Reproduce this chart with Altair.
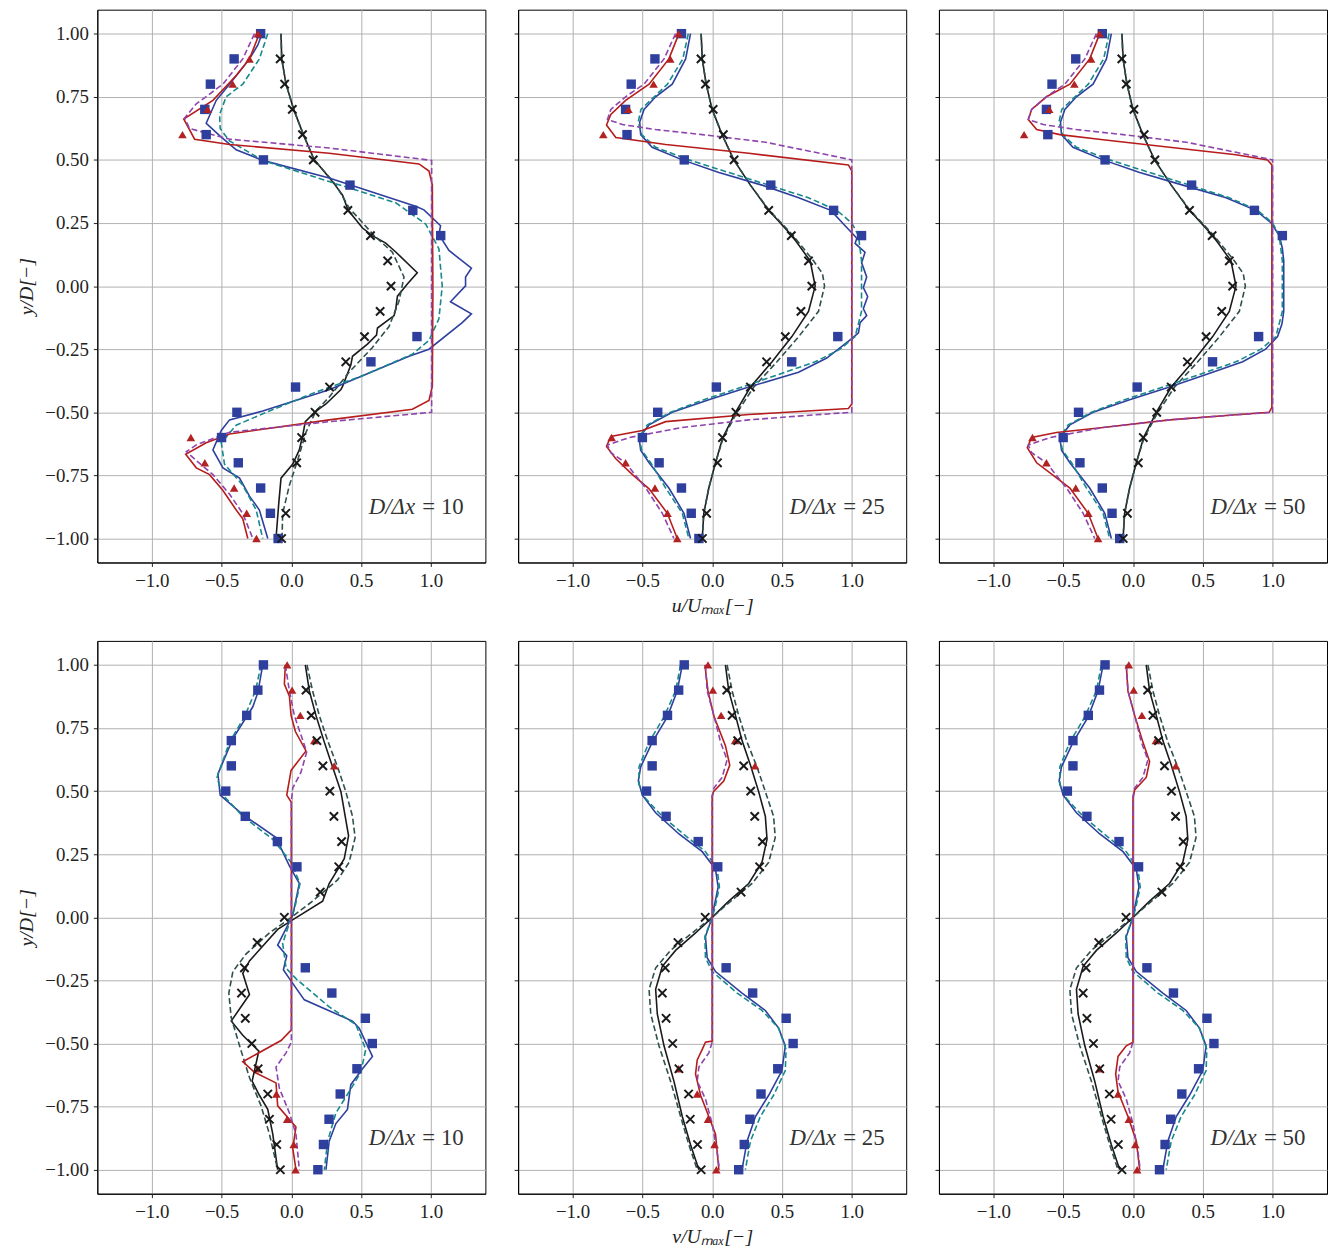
import altair as alt
import pandas as pd

# ---------------- axes ----------------
X_DOMAIN = [-1.39, 1.39]
Y_DOMAIN = [-1.095, 1.095]
X_TICKS = [-1.0, -0.5, 0.0, 0.5, 1.0]
Y_TICKS = [-1.0, -0.75, -0.5, -0.25, 0.0, 0.25, 0.5, 0.75, 1.0]
RESOLUTIONS = ["10", "25", "50"]

# ---------------- reference points (y, x) ----------------
U_REF_CROSS = [(0.9, -0.08), (0.8, -0.048), (0.7, 0.007), (0.6, 0.08), (0.5, 0.157),
               (0.3, 0.405), (0.2, 0.567), (0.1, 0.69), (0.0, 0.714), (-0.1, 0.636),
               (-0.2, 0.524), (-0.3, 0.39), (-0.4, 0.274), (-0.5, 0.17), (-0.6, 0.074),
               (-0.7, 0.038), (-0.9, -0.04), (-1.0, -0.07)]
U_REF_SQUARE = [(1.0, -0.22), (0.9, -0.41), (0.8, -0.58), (0.7, -0.62), (0.6, -0.61),
                (0.5, -0.2), (0.4, 0.42), (0.3, 0.87), (0.2, 1.07), (-0.2, 0.9),
                (-0.3, 0.57), (-0.4, 0.03), (-0.5, -0.39), (-0.6, -0.5), (-0.7, -0.38),
                (-0.8, -0.22), (-0.9, -0.15), (-1.0, -0.095)]
U_REF_TRIANGLE = [(1.0, -0.24), (0.9, -0.3), (0.8, -0.42), (0.7, -0.6), (0.6, -0.78),
                  (-0.6, -0.72), (-0.7, -0.62), (-0.8, -0.41), (-0.9, -0.32), (-1.0, -0.25)]

V_REF_CROSS = [(0.9, 0.105), (0.8, 0.143), (0.7, 0.183), (0.6, 0.226), (0.5, 0.276),
               (0.4, 0.305), (0.3, 0.36), (0.2, 0.34), (0.1, 0.207), (0.0, -0.05),
               (-0.1, -0.245), (-0.2, -0.336), (-0.3, -0.357), (-0.4, -0.33), (-0.5, -0.283),
               (-0.6, -0.238), (-0.7, -0.169), (-0.8, -0.157), (-0.9, -0.105), (-1.0, -0.079)]
V_REF_SQUARE = [(1.0, -0.2), (0.9, -0.24), (0.8, -0.32), (0.7, -0.43), (0.6, -0.43),
                (0.5, -0.47), (0.4, -0.33), (0.3, -0.1), (0.2, 0.04), (-0.2, 0.1),
                (-0.3, 0.29), (-0.4, 0.53), (-0.5, 0.58), (-0.6, 0.47), (-0.7, 0.35),
                (-0.8, 0.27), (-0.9, 0.23), (-1.0, 0.19)]
V_REF_TRIANGLE = [(1.0, -0.03), (0.9, 0.005), (0.8, 0.064), (0.7, 0.164), (0.6, 0.307),
                  (-0.6, -0.24), (-0.7, -0.107), (-0.8, -0.03), (-0.9, 0.017), (-1.0, 0.03)]

# ---------------- u profiles, D/dx = 10 ----------------
U10_BLACK = [(1.0, -0.074), (0.9, -0.069), (0.8, -0.038), (0.7, 0.017), (0.6, 0.086), (0.5, 0.164),
             (0.43, 0.271), (0.4, 0.314), (0.36, 0.367), (0.3, 0.407), (0.23, 0.51), (0.2, 0.58),
             (0.17, 0.676), (0.135, 0.748), (0.053, 0.902), (0.008, 0.831), (-0.04, 0.76),
             (-0.09, 0.748), (-0.117, 0.736), (-0.166, 0.617), (-0.194, 0.61), (-0.23, 0.545),
             (-0.278, 0.438), (-0.313, 0.426), (-0.397, 0.367), (-0.41, 0.355), (-0.467, 0.248),
             (-0.495, 0.176), (-0.537, 0.1), (-0.593, 0.081), (-0.649, 0.057), (-0.705, 0.01),
             (-0.761, -0.074), (-0.859, -0.09), (-1.0, -0.11)]
U10_SLATE = [(1.0, -0.074), (0.9, -0.069), (0.8, -0.038), (0.7, 0.017), (0.6, 0.086), (0.5, 0.164),
             (0.4, 0.32), (0.31, 0.414), (0.2, 0.593), (0.134, 0.724), (0.036, 0.807), (-0.06, 0.771),
             (-0.16, 0.7), (-0.243, 0.581), (-0.341, 0.414), (-0.44, 0.271), (-0.495, 0.176),
             (-0.579, 0.105), (-0.69, 0.045), (-0.789, -0.014), (-0.9, -0.062), (-1.0, -0.067)]
U10_BLUE = [(1.0, -0.21), (0.955, -0.24), (0.9, -0.3), (0.8, -0.443), (0.736, -0.538), (0.645, -0.61),
            (0.596, -0.514), (0.54, -0.395), (0.498, -0.205), (0.428, 0.271), (0.316, 0.89),
            (0.302, 0.95), (0.239, 1.069), (0.204, 1.057), (0.141, 1.129), (0.071, 1.29),
            (0.036, 1.248), (0.001, 1.248), (-0.062, 1.14), (-0.11, 1.29), (-0.145, 1.224),
            (-0.25, 0.986), (-0.278, 0.843), (-0.411, 0.271), (-0.495, -0.205), (-0.53, -0.443),
            (-0.572, -0.502), (-0.649, -0.562), (-0.72, -0.49), (-0.761, -0.371), (-0.832, -0.3),
            (-0.887, -0.229), (-1.0, -0.169)]
U10_TEAL = [(1.0, -0.169), (0.9, -0.229), (0.8, -0.348), (0.75, -0.467), (0.68, -0.514),
            (0.624, -0.51), (0.575, -0.443), (0.498, -0.205), (0.414, 0.271), (0.33, 0.748),
            (0.246, 0.962), (0.148, 1.057), (0.0, 1.081), (-0.13, 1.057), (-0.215, 0.986),
            (-0.27, 0.867), (-0.355, 0.51), (-0.425, 0.152), (-0.495, -0.157), (-0.551, -0.395),
            (-0.621, -0.502), (-0.705, -0.479), (-0.789, -0.348), (-0.887, -0.252), (-1.0, -0.205)]
U10_RED = [(1.0, -0.229), (0.9, -0.3), (0.834, -0.395), (0.736, -0.562), (0.662, -0.771),
           (0.582, -0.693), (0.561, -0.443), (0.526, 0.271), (0.484, 0.914), (0.456, 0.986),
           (0.4, 1.01), (-0.02, 1.014), (-0.397, 1.01), (-0.453, 0.986), (-0.488, 0.867),
           (-0.53, 0.271), (-0.586, -0.443), (-0.621, -0.61), (-0.666, -0.757), (-0.72, -0.681),
           (-0.747, -0.586), (-0.81, -0.49), (-0.887, -0.395), (-0.922, -0.348), (-1.0, -0.312)]
U10_PURPLE = [(1.0, -0.264), (0.9, -0.348), (0.8, -0.49), (0.722, -0.681), (0.666, -0.764),
              (0.624, -0.729), (0.582, -0.443), (0.547, 0.271), (0.498, 1.005), (-0.5, 1.005),
              (-0.537, 0.271), (-0.579, -0.443), (-0.629, -0.681), (-0.656, -0.752),
              (-0.691, -0.681), (-0.747, -0.562), (-0.824, -0.443), (-0.901, -0.348), (-1.0, -0.276)]

# ---------------- u profiles, D/dx = 25 ----------------
U25_BLACK = [(1.0, -0.079), (0.9, -0.071), (0.8, -0.043), (0.7, 0.0), (0.6, 0.071), (0.5, 0.155),
             (0.4, 0.274), (0.3, 0.405), (0.2, 0.571), (0.1, 0.702), (0.0, 0.738), (-0.1, 0.69),
             (-0.2, 0.571), (-0.3, 0.429), (-0.4, 0.274), (-0.5, 0.167), (-0.6, 0.076),
             (-0.7, 0.024), (-0.8, -0.024), (-0.9, -0.06), (-1.0, -0.071)]
U25_SLATE = [(1.0, -0.079), (0.9, -0.071), (0.8, -0.043), (0.7, 0.0), (0.6, 0.071), (0.5, 0.155),
             (0.4, 0.274), (0.3, 0.41), (0.2, 0.58), (0.1, 0.726), (0.05, 0.79), (0.0, 0.805),
             (-0.1, 0.762), (-0.2, 0.62), (-0.3, 0.464), (-0.4, 0.298), (-0.5, 0.179),
             (-0.6, 0.08), (-0.7, 0.024), (-0.8, -0.024), (-0.9, -0.06), (-1.0, -0.071)]
U25_BLUE = [(1.0, -0.155), (0.9, -0.19), (0.8, -0.286), (0.75, -0.405), (0.7, -0.488),
            (0.65, -0.519), (0.6, -0.512), (0.55, -0.43), (0.5, -0.214), (0.45, 0.048),
            (0.4, 0.357), (0.35, 0.62), (0.3, 0.85), (0.225, 0.976), (0.19, 1.036), (0.169, 1.024),
            (0.134, 1.095), (0.092, 1.071), (0.036, 1.107), (-0.006, 1.083), (-0.041, 1.114),
            (-0.09, 1.083), (-0.117, 1.107), (-0.145, 1.06), (-0.185, 1.048), (-0.208, 1.0),
            (-0.285, 0.821), (-0.341, 0.619), (-0.4, 0.262), (-0.45, -0.024), (-0.5, -0.286),
            (-0.55, -0.452), (-0.6, -0.524), (-0.65, -0.512), (-0.7, -0.452), (-0.8, -0.31),
            (-0.9, -0.202), (-1.0, -0.155)]
U25_TEAL = [(1.0, -0.171), (0.9, -0.21), (0.8, -0.32), (0.7, -0.51), (0.65, -0.53), (0.6, -0.505),
            (0.55, -0.405), (0.5, -0.167), (0.45, 0.119), (0.4, 0.405), (0.35, 0.69), (0.3, 0.893),
            (0.25, 1.0), (0.2, 1.048), (0.1, 1.07), (-0.1, 1.07), (-0.2, 1.024), (-0.25, 0.917),
            (-0.3, 0.738), (-0.35, 0.476), (-0.4, 0.214), (-0.45, -0.06), (-0.5, -0.298),
            (-0.55, -0.464), (-0.6, -0.524), (-0.65, -0.505), (-0.7, -0.44), (-0.8, -0.333),
            (-0.9, -0.214), (-1.0, -0.167)]
U25_RED = [(1.0, -0.238), (0.9, -0.31), (0.8, -0.452), (0.736, -0.62), (0.68, -0.726),
           (0.638, -0.757), (0.589, -0.69), (0.561, -0.333), (0.526, 0.262), (0.48, 0.976),
           (0.456, 1.0), (-0.467, 1.0), (-0.485, 0.976), (-0.509, 0.262), (-0.537, -0.333),
           (-0.572, -0.5), (-0.596, -0.726), (-0.635, -0.757), (-0.684, -0.69), (-0.747, -0.571),
           (-0.803, -0.452), (-0.9, -0.321), (-1.0, -0.25)]
U25_PURPLE = [(1.0, -0.262), (0.9, -0.345), (0.8, -0.488), (0.75, -0.62), (0.7, -0.726),
              (0.66, -0.75), (0.64, -0.643), (0.62, -0.405), (0.6, -0.071), (0.57, 0.381),
              (0.53, 0.738), (0.5, 1.0), (-0.5, 1.0), (-0.51, 0.738), (-0.53, 0.262),
              (-0.56, -0.214), (-0.6, -0.595), (-0.63, -0.75), (-0.66, -0.726), (-0.7, -0.62),
              (-0.8, -0.476), (-0.9, -0.357), (-1.0, -0.274)]

# ---------------- u profiles, D/dx = 50 ----------------
U50_BLACK = U25_BLACK
U50_SLATE = U25_SLATE
U50_BLUE = [(1.0, -0.155), (0.9, -0.19), (0.8, -0.286), (0.75, -0.405), (0.7, -0.488),
            (0.65, -0.519), (0.6, -0.512), (0.55, -0.43), (0.5, -0.214), (0.45, 0.048),
            (0.4, 0.357), (0.35, 0.667), (0.3, 0.88), (0.25, 0.99), (0.2, 1.048), (0.15, 1.07),
            (0.1, 1.08), (-0.1, 1.08), (-0.15, 1.067), (-0.2, 1.036), (-0.25, 0.95),
            (-0.3, 0.786), (-0.35, 0.524), (-0.4, 0.262), (-0.45, -0.024), (-0.5, -0.286),
            (-0.55, -0.452), (-0.6, -0.524), (-0.65, -0.512), (-0.7, -0.452), (-0.8, -0.31),
            (-0.9, -0.202), (-1.0, -0.155)]
U50_TEAL = U25_TEAL
U50_RED = [(1.0, -0.238), (0.9, -0.31), (0.8, -0.452), (0.75, -0.62), (0.7, -0.726),
           (0.66, -0.75), (0.62, -0.69), (0.6, -0.524), (0.58, -0.214), (0.55, 0.262),
           (0.52, 0.738), (0.5, 0.964), (0.48, 0.995), (-0.48, 0.995), (-0.5, 0.976),
           (-0.51, 0.738), (-0.53, 0.262), (-0.56, -0.214), (-0.58, -0.548), (-0.6, -0.726),
           (-0.64, -0.757), (-0.7, -0.69), (-0.75, -0.571), (-0.8, -0.452), (-0.9, -0.321),
           (-1.0, -0.25)]
U50_PURPLE = U25_PURPLE

# ---------------- v profiles, D/dx = 10 ----------------
V10_BLACK = [(1.0, 0.1), (0.897, 0.129), (0.8, 0.176), (0.694, 0.236), (0.596, 0.295), (0.498, 0.355),
             (0.323, 0.41), (0.232, 0.379), (0.134, 0.271), (0.064, 0.224), (-0.013, 0.0),
             (-0.048, -0.098), (-0.173, -0.3), (-0.222, -0.348), (-0.306, -0.3), (-0.411, -0.431),
             (-0.467, -0.348), (-0.53, -0.233), (-0.649, -0.281), (-0.705, -0.229), (-0.761, -0.169),
             (-0.859, -0.133), (-1.0, -0.098)]
V10_SLATE = [(1.0, 0.112), (0.897, 0.152), (0.8, 0.2), (0.7, 0.26), (0.596, 0.331), (0.498, 0.39),
             (0.4, 0.438), (0.316, 0.457), (0.218, 0.414), (0.148, 0.331), (0.064, 0.152), (0.0, 0.0),
             (-0.062, -0.157), (-0.145, -0.324), (-0.215, -0.419), (-0.3, -0.448), (-0.397, -0.431),
             (-0.509, -0.371), (-0.635, -0.3), (-0.747, -0.217), (-0.859, -0.157), (-1.0, -0.098)]
V10_BLUE = [(1.0, -0.205), (0.89, -0.24), (0.834, -0.276), (0.708, -0.419), (0.568, -0.526),
            (0.484, -0.51), (0.407, -0.348), (0.316, -0.11), (0.204, -0.014), (0.134, 0.057),
            (0.008, 0.01), (-0.11, -0.098), (-0.152, -0.033), (-0.208, -0.057), (-0.243, -0.014),
            (-0.327, 0.093), (-0.411, 0.438), (-0.439, 0.486), (-0.551, 0.581), (-0.6, 0.51),
            (-0.663, 0.426), (-0.761, 0.402), (-0.817, 0.319), (-0.887, 0.271), (-1.0, 0.248)]
V10_TEAL = [(1.0, -0.217), (0.897, -0.257), (0.794, -0.336), (0.694, -0.443), (0.554, -0.533),
            (0.484, -0.49), (0.4, -0.348), (0.309, -0.133), (0.218, -0.002), (0.134, 0.062),
            (0.036, 0.024), (0.0, 0.0), (-0.103, -0.062), (-0.201, -0.038), (-0.243, 0.033),
            (-0.355, 0.271), (-0.425, 0.462), (-0.523, 0.533), (-0.614, 0.498), (-0.691, 0.414),
            (-0.775, 0.319), (-0.887, 0.26), (-1.0, 0.236)]
V10_RED = [(1.0, -0.043), (0.924, -0.05), (0.876, -0.014), (0.8, -0.002), (0.736, 0.029),
           (0.659, 0.105), (0.582, -0.002), (0.484, -0.033), (0.456, 0.0), (-0.446, 0.0),
           (-0.488, -0.074), (-0.572, -0.348), (-0.614, -0.264), (-0.656, -0.11), (-0.747, -0.098),
           (-0.831, 0.033), (-0.915, 0.01), (-1.0, 0.033)]
V10_PURPLE = [(1.0, -0.043), (0.897, -0.014), (0.8, 0.021), (0.722, 0.069), (0.655, 0.11),
              (0.575, 0.069), (0.512, 0.01), (0.46, 0.0), (-0.495, 0.0), (-0.537, -0.038),
              (-0.593, -0.11), (-0.677, -0.086), (-0.775, -0.014), (-0.859, 0.033), (-1.0, 0.057)]

# ---------------- v profiles, D/dx = 25 and 50 ----------------
V50_BLACK = [(1.0, 0.095), (0.897, 0.119), (0.8, 0.167), (0.7, 0.214), (0.603, 0.274), (0.498, 0.333),
             (0.4, 0.381), (0.309, 0.393), (0.218, 0.357), (0.134, 0.262), (0.064, 0.119), (0.0, 0.0),
             (-0.062, -0.119), (-0.131, -0.262), (-0.194, -0.357), (-0.285, -0.405),
             (-0.383, -0.393), (-0.509, -0.345), (-0.649, -0.274), (-0.789, -0.214),
             (-0.901, -0.155), (-1.0, -0.095)]
V50_SLATE = [(1.0, 0.107), (0.897, 0.143), (0.8, 0.19), (0.694, 0.25), (0.596, 0.321), (0.498, 0.381),
             (0.4, 0.44), (0.316, 0.452), (0.218, 0.405), (0.134, 0.286), (0.057, 0.119), (0.0, 0.0),
             (-0.062, -0.143), (-0.131, -0.298), (-0.201, -0.405), (-0.285, -0.452),
             (-0.383, -0.44), (-0.509, -0.381), (-0.649, -0.298), (-0.789, -0.226),
             (-0.901, -0.167), (-1.0, -0.107)]
V50_BLUE = [(1.0, -0.214), (0.897, -0.25), (0.794, -0.321), (0.694, -0.429), (0.596, -0.512),
            (0.54, -0.529), (0.484, -0.5), (0.414, -0.405), (0.33, -0.238), (0.26, -0.071),
            (0.19, 0.024), (0.12, 0.043), (0.036, 0.012), (0.0, 0.0), (-0.076, -0.048),
            (-0.16, -0.036), (-0.215, 0.024), (-0.3, 0.214), (-0.369, 0.381), (-0.439, 0.476),
            (-0.509, 0.524), (-0.607, 0.5), (-0.705, 0.405), (-0.789, 0.31), (-0.887, 0.25),
            (-1.0, 0.214)]
V50_TEAL = [(1.0, -0.226), (0.897, -0.262), (0.794, -0.345), (0.694, -0.452), (0.596, -0.524),
            (0.526, -0.524), (0.47, -0.476), (0.4, -0.357), (0.323, -0.19), (0.26, -0.048),
            (0.19, 0.036), (0.12, 0.052), (0.036, 0.019), (0.0, 0.0), (-0.076, -0.052),
            (-0.16, -0.048), (-0.215, 0.0), (-0.3, 0.179), (-0.369, 0.357), (-0.439, 0.476),
            (-0.523, 0.529), (-0.607, 0.524), (-0.705, 0.44), (-0.789, 0.345), (-0.887, 0.274),
            (-1.0, 0.238)]
V50_RED = [(1.0, -0.048), (0.897, -0.036), (0.8, 0.012), (0.694, 0.071), (0.617, 0.119),
           (0.554, 0.095), (0.505, 0.012), (0.47, 0.0), (-0.495, 0.0), (-0.509, -0.048),
           (-0.551, -0.107), (-0.621, -0.124), (-0.691, -0.107), (-0.789, -0.036),
           (-0.887, 0.024), (-1.0, 0.048)]
V50_PURPLE = [(1.0, -0.048), (0.897, -0.036), (0.8, 0.012), (0.694, 0.06), (0.624, 0.107),
              (0.554, 0.071), (0.512, 0.012), (0.48, 0.0), (-0.495, 0.0), (-0.537, -0.024),
              (-0.593, -0.095), (-0.649, -0.107), (-0.72, -0.048), (-0.818, 0.0),
              (-0.93, 0.036), (-1.0, 0.052)]
V25_BLACK = V50_BLACK
V25_SLATE = V50_SLATE
V25_BLUE = V50_BLUE
V25_TEAL = V50_TEAL
V25_RED = [(1.0, -0.052), (0.897, -0.03), (0.794, 0.014), (0.68, 0.095), (0.603, 0.126),
           (0.54, 0.083), (0.5, 0.012), (0.48, 0.0), (-0.49, 0.0), (-0.495, -0.048),
           (-0.523, -0.071), (-0.565, -0.107), (-0.621, -0.119), (-0.705, -0.083),
           (-0.789, -0.024), (-0.859, 0.024), (-1.0, 0.048)]
V25_PURPLE = V50_PURPLE

# ---------------- styles ----------------
C_BLACK = "#1a1a1a"
C_SLATE = "#2f4f4f"
C_BLUE = "#2e3f9e"
C_TEAL = "#16898c"
C_RED = "#b71c1c"
C_PURPLE = "#8e44ad"
FONT = "Liberation Serif"

x_scale = alt.Scale(domain=X_DOMAIN, nice=False, zero=False)
y_scale = alt.Scale(domain=Y_DOMAIN, nice=False, zero=False)


def make_panel(lines, refs, res, show_y, x_title):
    x_axis = alt.Axis(values=X_TICKS, format=".1f", title=x_title if x_title else None,
                      titleFontStyle="italic", titlePadding=5)
    if show_y:
        y_axis = alt.Axis(values=Y_TICKS, format=".2f", title="y/D[−]",
                          titleFontStyle="italic", titlePadding=8)
    else:
        y_axis = alt.Axis(values=Y_TICKS, labels=False, title=None)
    enc = lambda: dict(x=alt.X("x:Q", scale=x_scale, axis=x_axis),
                       y=alt.Y("y:Q", scale=y_scale, axis=y_axis))
    layers = []
    for data, color, dash in lines:
        df = pd.DataFrame(data, columns=["y", "x"])
        df["i"] = range(len(df))
        kw = dict(color=color, strokeWidth=1.6)
        if dash:
            kw["strokeDash"] = [6, 3]
        layers.append(alt.Chart(df).mark_line(**kw).encode(order="i:Q", **enc()))
    cross, square, tri = refs
    for data, mk in [
        (square, dict(shape="square", filled=True, size=90, color=C_BLUE, opacity=1)),
        (tri, dict(shape="triangle-up", filled=True, size=75, color="#b22222", opacity=1)),
        (cross, dict(shape="M-1,-1L1,1M-1,1L1,-1", filled=False, size=70, strokeWidth=2,
                     color=C_BLACK, opacity=1)),
    ]:
        df = pd.DataFrame(data, columns=["y", "x"])
        layers.append(alt.Chart(df).mark_point(**mk).encode(**enc()))
    tdf = pd.DataFrame({"x": [1.235], "y": [-0.875], "a": ["D/Δx"], "b": [f"= {res}"]})
    layers.append(alt.Chart(tdf).mark_text(align="right", baseline="middle", font=FONT,
                                          fontSize=23, fontStyle="italic", color="#333",
                                          dx=-49).encode(text="a:N", **enc()))
    layers.append(alt.Chart(tdf).mark_text(align="right", baseline="middle", font=FONT,
                                          fontSize=23, color="#333").encode(text="b:N", **enc()))
    return alt.layer(*layers).properties(width=391, height=557)


U_LINES = {
    "10": [U10_BLACK, U10_SLATE, U10_BLUE, U10_TEAL, U10_RED, U10_PURPLE],
    "25": [U25_BLACK, U25_SLATE, U25_BLUE, U25_TEAL, U25_RED, U25_PURPLE],
    "50": [U50_BLACK, U50_SLATE, U50_BLUE, U50_TEAL, U50_RED, U50_PURPLE],
}
V_LINES = {
    "10": [V10_BLACK, V10_SLATE, V10_BLUE, V10_TEAL, V10_RED, V10_PURPLE],
    "25": [V25_BLACK, V25_SLATE, V25_BLUE, V25_TEAL, V25_RED, V25_PURPLE],
    "50": [V50_BLACK, V50_SLATE, V50_BLUE, V50_TEAL, V50_RED, V50_PURPLE],
}
STYLES = [(C_BLACK, False), (C_SLATE, True), (C_BLUE, False), (C_TEAL, True),
          (C_RED, False), (C_PURPLE, True)]


def row(lines_by_res, refs, title):
    panels = []
    for k, res in enumerate(RESOLUTIONS):
        lines = [(d, c, dash) for d, (c, dash) in zip(lines_by_res[res], STYLES)]
        panels.append(make_panel(lines, refs, res, k == 0, title if k == 1 else None))
    return alt.hconcat(*panels, spacing=27)


top = row(U_LINES, (U_REF_CROSS, U_REF_SQUARE, U_REF_TRIANGLE), "u/Uₘₐₓ[−]")
bottom = row(V_LINES, (V_REF_CROSS, V_REF_SQUARE, V_REF_TRIANGLE), "v/Uₘₐₓ[−]")

chart = alt.vconcat(top, bottom, spacing=24).properties(
    padding={"left": 8, "top": -4, "right": 0, "bottom": -4}
).configure_view(stroke="black", strokeWidth=1).configure_axis(
    labelFont=FONT, labelFontSize=19, labelColor="#222", titleFont=FONT, titleFontSize=20,
    titleColor="#222", titleFontWeight="normal", tickColor="#222", tickSize=4,
    domainColor="black", gridColor="#b0b0b0", gridWidth=1, labelPadding=5
)

chart.save("out.html", embed_options={"renderer": "svg", "actions": False})
